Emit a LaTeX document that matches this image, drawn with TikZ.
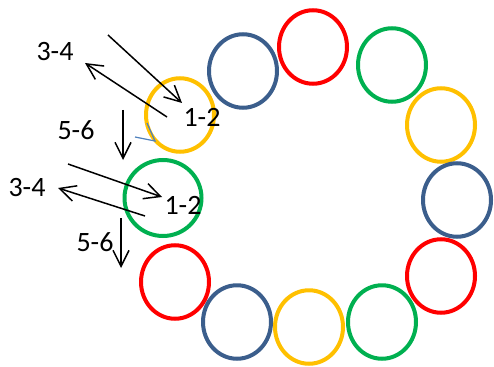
\documentclass[tikz,border=0pt]{standalone}
\usepackage{fontspec}
\setmainfont{Carlito}
\usetikzlibrary{shapes.geometric,arrows.meta}
\definecolor{cyel}{HTML}{FFC000}
\definecolor{cblu}{HTML}{3B5E8C}
\definecolor{cred}{HTML}{FF0000}
\definecolor{cgrn}{HTML}{00B050}
\definecolor{cmark}{HTML}{4F81BD}
\tikzset{
  ring/.style={ellipse, draw=#1, line width=4pt, minimum width=68pt, minimum height=73.5pt, inner sep=0pt},
  lbl/.style={font=\fontsize{28}{30}\selectfont, inner sep=0pt},
  arr/.style={line width=1.5pt, -{Straight Barb[length=16pt, width=16pt, line width=1.5pt]}}
}
\begin{document}
\begin{tikzpicture}[x=1pt, y=-1pt]
\useasboundingbox (0,0) rectangle (494,366);
% rings
\node[ring=cyel] (r1) at (180,115) {};
\node[ring=cblu] (r2) at (243,71) {};
\node[ring=cred] (r3) at (313,47) {};
\node[ring=cgrn] (r4) at (392,65) {};
\node[ring=cyel] (r5) at (441,125) {};
\node[ring=cblu] (r6) at (457,200) {};
\node[ring=cred] (r7) at (441,276) {};
\node[ring=cgrn] (r8) at (382,322) {};
\node[ring=cyel] (r9) at (309,327) {};
\node[ring=cblu] (r10) at (237,322) {};
\node[ring=cred] (r11) at (175,282) {};
\node[ring=cgrn, minimum width=77pt, minimum height=76pt] (r12) at (163,198) {};
% labels
\node[lbl] (t34a) at (55,52) {3-4};
\node[lbl] (t12a) at (202,117) {1-2};
\node[lbl] (t56a) at (76,130) {5-6};
\node[lbl] (t34b) at (27,188) {3-4};
\node[lbl] (t12b) at (183,205) {1-2};
\node[lbl] (t56b) at (95,242) {5-6};
% arrow end points
\coordinate (a1s) at (108,35);
\coordinate (a1e) at (182,103);
\coordinate (a2s) at (167,117);
\coordinate (a2e) at (85,63);
\coordinate (a3s) at (123,110);
\coordinate (a3e) at (123,160);
\coordinate (b1s) at (68,164);
\coordinate (b1e) at (162,197);
\coordinate (b2s) at (145,216);
\coordinate (b2e) at (58,188);
\coordinate (b3s) at (121,218);
\coordinate (b3e) at (121,268);
\coordinate (m1) at (135,137);
\coordinate (m2) at (155,141);
\coordinate (m3) at (147,123);
% arrows
\draw[arr] (a1s) -- (a1e);
\draw[arr] (a2s) -- (a2e);
\draw[arr] (a3s) -- (a3e);
\draw[arr] (b1s) -- (b1e);
\draw[arr] (b2s) -- (b2e);
\draw[arr] (b3s) -- (b3e);
\draw[cmark, line width=1.2pt] (m1) -- (m2) -- (m3);
\end{tikzpicture}
\end{document}
